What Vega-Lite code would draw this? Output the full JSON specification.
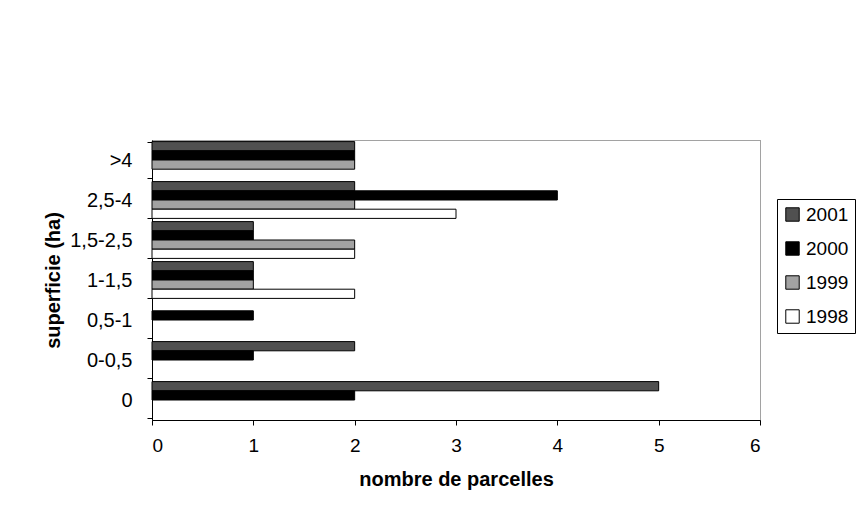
{
  "$schema": "https://vega.github.io/schema/vega-lite/v6.json",
  "autosize": {"type": "none"},
  "width": 608,
  "height": 280,
  "padding": {"left": 152, "top": 140, "right": 98, "bottom": 108},
  "background": "white",
  "config": {
    "font": "Liberation Sans",
    "view": {"stroke": "#444", "strokeDash": [1, 1], "strokeWidth": 1},
    "axis": {"domainColor": "black", "tickColor": "black", "labelColor": "black", "titleColor": "black", "grid": false}
  },
  "data": {
    "values": [
      {"superficie": ">4", "annee": "2001", "n": 2},
      {"superficie": ">4", "annee": "2000", "n": 2},
      {"superficie": ">4", "annee": "1999", "n": 2},
      {"superficie": "2,5-4", "annee": "2001", "n": 2},
      {"superficie": "2,5-4", "annee": "2000", "n": 4},
      {"superficie": "2,5-4", "annee": "1999", "n": 2},
      {"superficie": "2,5-4", "annee": "1998", "n": 3},
      {"superficie": "1,5-2,5", "annee": "2001", "n": 1},
      {"superficie": "1,5-2,5", "annee": "2000", "n": 1},
      {"superficie": "1,5-2,5", "annee": "1999", "n": 2},
      {"superficie": "1,5-2,5", "annee": "1998", "n": 2},
      {"superficie": "1-1,5", "annee": "2001", "n": 1},
      {"superficie": "1-1,5", "annee": "2000", "n": 1},
      {"superficie": "1-1,5", "annee": "1999", "n": 1},
      {"superficie": "1-1,5", "annee": "1998", "n": 2},
      {"superficie": "0,5-1", "annee": "2000", "n": 1},
      {"superficie": "0-0,5", "annee": "2001", "n": 2},
      {"superficie": "0-0,5", "annee": "2000", "n": 1},
      {"superficie": "0", "annee": "2001", "n": 5},
      {"superficie": "0", "annee": "2000", "n": 2}
    ]
  },
  "mark": {"type": "bar", "stroke": "black", "strokeWidth": 1},
  "encoding": {
    "y": {
      "field": "superficie",
      "type": "nominal",
      "sort": [">4", "2,5-4", "1,5-2,5", "1-1,5", "0,5-1", "0-0,5", "0"],
      "scale": {"domain": [">4", "2,5-4", "1,5-2,5", "1-1,5", "0,5-1", "0-0,5", "0"], "paddingInner": 0.08, "paddingOuter": 0.04},
      "axis": {
        "title": "superficie (ha)",
        "titleFontSize": 20,
        "titleFontWeight": "bold",
        "titlePadding": 6,
        "labelFontSize": 20,
        "labelPadding": 15,
        "tickSize": 5,
        "tickBand": "extent"
      }
    },
    "yOffset": {
      "field": "annee",
      "type": "nominal",
      "scale": {"domain": ["2001", "2000", "1999", "1998"]}
    },
    "x": {
      "field": "n",
      "type": "quantitative",
      "scale": {"domain": [0, 6], "nice": false},
      "axis": {
        "title": "nombre de parcelles",
        "titleFontSize": 20,
        "titleFontWeight": "bold",
        "titlePadding": 14,
        "labelFontSize": 19,
        "labelPadding": 11,
        "tickSize": 5,
        "values": [0, 1, 2, 3, 4, 5, 6],
        "format": "d"
      }
    },
    "fill": {
      "field": "annee",
      "type": "nominal",
      "scale": {"domain": ["2001", "2000", "1999", "1998"], "range": ["#505050", "#000000", "#a2a2a2", "#ffffff"]},
      "legend": {
        "title": null,
        "orient": "none",
        "legendX": 625,
        "legendY": 59,
        "strokeColor": "black",
        "padding": 6,
        "labelFontSize": 19,
        "labelColor": "black",
        "symbolType": "square",
        "symbolSize": 180,
        "symbolStrokeColor": "black",
        "symbolStrokeWidth": 1,
        "rowPadding": 14,
        "labelOffset": 4
      }
    }
  }
}
